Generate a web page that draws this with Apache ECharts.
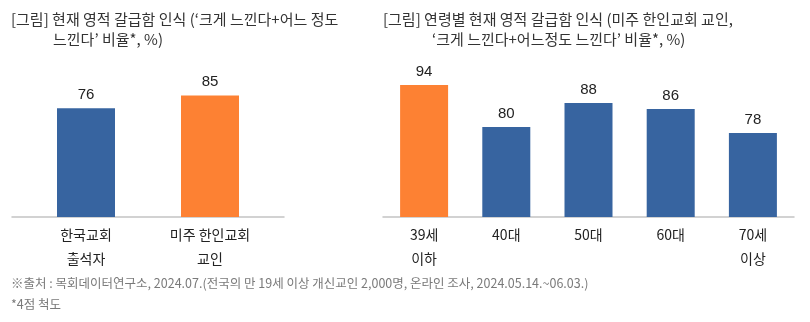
<!DOCTYPE html>
<html>
<head>
<meta charset="utf-8">
<script src="https://cdn.jsdelivr.net/npm/echarts@6/dist/echarts.min.js"></script>
<style>
  html, body { margin: 0; padding: 0; background: #ffffff; }
  #chart { width: 810px; height: 322px; }
</style>
</head>
<body>
<div id="chart"></div>
<script>
// Left panel: overall perception, Korean churches vs Korean-American churches
const churchCategories = ['한국교회\n출석자', '미주 한인교회\n교인'];
const churchValues = [76, 85];

// Right panel: Korean-American church members by age group
const ageCategories = ['39세\n이하', '40대', '50대', '60대', '70세\n이상'];
const ageValues = [94, 80, 88, 86, 78];

const titleLeft = ["[그림] 현재 영적 갈급함 인식 (‘크게 느낀다+어느 정도", "느낀다’ 비율*, %)"];
const titleRight = ["[그림] 연령별 현재 영적 갈급함 인식 (미주 한인교회 교인,", "‘크게 느낀다+어느정도 느낀다’ 비율*, %)"];
const footnotes = ["※출처 : 목회데이터연구소, 2024.07.(전국의 만 19세 이상 개신교인 2,000명, 온라인 조사, 2024.05.14.~06.03.)", "*4점 척도"];

const BLUE = '#3764a0';
const ORANGE = '#fd8133';
const KR = '"Noto Sans CJK KR", "Noto Sans", sans-serif';
const NUM = '"Liberation Sans", Arial, sans-serif';

const chart = echarts.init(document.getElementById('chart'), null, { renderer: 'canvas' });

const titleStyle = { fontFamily: KR, fontSize: 15, fontWeight: 'normal', color: '#333333' };
const noteStyle = { fontFamily: KR, fontSize: 12.5, fontWeight: 'normal', color: '#7a7a7a' };

function valueLabel() {
  return { show: true, position: 'top', distance: 6, fontFamily: NUM, fontSize: 15, color: '#222222' };
}
function catAxisLabel() {
  return { fontFamily: KR, fontSize: 14, color: '#222222', lineHeight: 24, margin: 6, interval: 0 };
}

const option = {
  backgroundColor: '#ffffff',
  animation: false,
  title: [
    { text: titleLeft[0], left: 11, top: 12, textStyle: titleStyle, padding: 0 },
    { text: titleLeft[1], left: 53, top: 32, textStyle: titleStyle, padding: 0 },
    { text: titleRight[0], left: 383, top: 12, textStyle: titleStyle, padding: 0 },
    { text: titleRight[1], left: 432, top: 32, textStyle: titleStyle, padding: 0 },
    { text: footnotes[0], left: 11, top: 277, textStyle: noteStyle, padding: 0 },
    { text: footnotes[1], left: 11, top: 298, textStyle: noteStyle, padding: 0 }
  ],
  grid: [
    // left panel baseline
    { left: 12, width: 272, top: 74, height: 143 },
    // left panel bars
    { left: 24, width: 248, top: 74, height: 143 },
    // right panel
    { left: 383, width: 411, top: 67, height: 150 }
  ],
  xAxis: [
    {
      gridIndex: 0, type: 'category', data: churchCategories,
      axisLine: { show: true, lineStyle: { color: '#c4c4c4', width: 1.5 } },
      axisTick: { show: false }, axisLabel: { show: false }
    },
    {
      gridIndex: 1, type: 'category', data: churchCategories,
      axisLine: { show: false }, axisTick: { show: false },
      axisLabel: catAxisLabel()
    },
    {
      gridIndex: 2, type: 'category', data: ageCategories,
      axisLine: { show: true, lineStyle: { color: '#c4c4c4', width: 1.5 } },
      axisTick: { show: false },
      axisLabel: catAxisLabel()
    }
  ],
  yAxis: [
    { gridIndex: 0, type: 'value', min: 0, max: 100, show: false },
    { gridIndex: 1, type: 'value', min: 0, max: 100, show: false },
    { gridIndex: 2, type: 'value', min: 50, max: 100, show: false }
  ],
  series: [
    {
      type: 'bar', xAxisIndex: 1, yAxisIndex: 1,
      data: churchValues, barWidth: 58,
      itemStyle: { color: (p) => (p.dataIndex === 1 ? ORANGE : BLUE) },
      label: valueLabel()
    },
    {
      type: 'bar', xAxisIndex: 2, yAxisIndex: 2,
      data: ageValues, barWidth: 48,
      itemStyle: { color: (p) => (p.dataIndex === 0 ? ORANGE : BLUE) },
      label: valueLabel()
    }
  ]
};

chart.setOption(option);
</script>
</body>
</html>
